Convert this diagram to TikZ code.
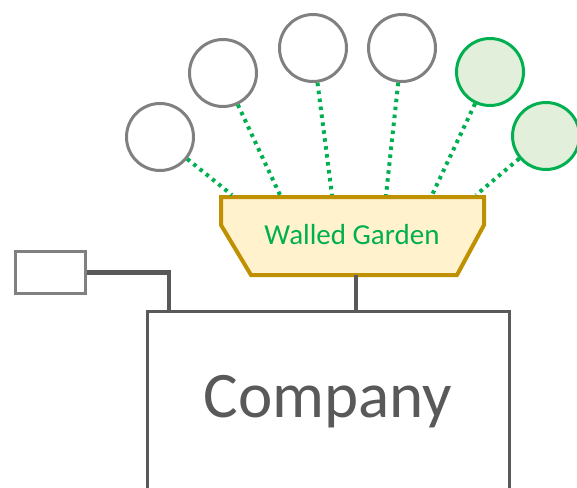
\documentclass[tikz,border=0pt]{standalone}
\usepackage{fontspec}
\setmainfont{Carlito}
\definecolor{ringgray}{HTML}{808080}
\definecolor{darkline}{HTML}{595959}
\definecolor{leafgreen}{HTML}{00B050}
\definecolor{leaffill}{HTML}{E2EFDA}
\definecolor{wallgold}{HTML}{BF9000}
\definecolor{wallfill}{HTML}{FFF2CC}

\begin{document}
\begin{tikzpicture}[x=1pt,y=-1pt,
	member/.style={circle,draw=ringgray,line width=3pt,minimum size=67pt,inner sep=0pt},
	joined/.style={member,draw=leafgreen,fill=leaffill},
	link/.style={leafgreen,line width=4pt,dash pattern=on 3.5pt off 4.5pt},
	wire/.style={darkline,line width=4.5pt}]
			\clip (0,0) rectangle (577,487);
			% people round the garden
			\node [member] (p1) at (160,137) {};
			\node [member] (p2) at (223,73) {};
			\node [member] (p3) at (313,48) {};
			\node [member] (p4) at (402,48) {};
			\node [joined] (p5) at (490,72) {};
			\node [joined] (p6) at (546,136) {};
			% walled garden
			\draw [wallgold,fill=wallfill,line width=4pt,line join=miter]
				(221,197) -- (484,197) -- (484,225) -- (457,275) -- (251,275) -- (221,225) -- cycle;
			\node [text=leafgreen,font=\fontsize{29}{34}\selectfont] (garden) at (352,235) {Walled Garden};
			\coordinate (g1) at (232,195);
			\coordinate (g2) at (280,195);
			\coordinate (g3) at (332,195);
			\coordinate (g4) at (386,195);
			\coordinate (g5) at (432,195);
			\coordinate (g6) at (476,195);
			\coordinate (gb) at (356,275);
			\foreach \i in {1,...,6}
				\draw [link] (p\i) -- (g\i);
			% company
			\node [draw=darkline,line width=3pt,minimum width=362pt,minimum height=181pt,inner sep=0pt,
				text=darkline,font=\fontsize{65}{70}\selectfont] (company) at (328,401.5) {Company};
			\node [draw=ringgray,line width=3pt,minimum width=70pt,minimum height=42pt,inner sep=0pt] (device) at (50.5,272.5) {};
			\draw [wire] (gb) -- (company.north -| gb);
			\draw [wire] (device.east) -- (169,272.5) -- (company.north -| 169,0);
			\end{tikzpicture}
\end{document}
